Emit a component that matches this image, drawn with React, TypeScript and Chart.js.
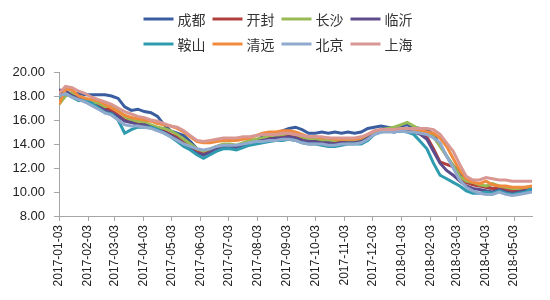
import React, { useEffect, useRef } from "react";
import { Chart, registerables } from "chart.js";

Chart.register(...registerables);

const dates = [
  "2017-01-03", "2017-01-10", "2017-01-17", "2017-01-24", "2017-01-31",
  "2017-02-07", "2017-02-14", "2017-02-21", "2017-02-28",
  "2017-03-07", "2017-03-14", "2017-03-21", "2017-03-28",
  "2017-04-04", "2017-04-11", "2017-04-18", "2017-04-25",
  "2017-05-02", "2017-05-09", "2017-05-16", "2017-05-23", "2017-05-30",
  "2017-06-06", "2017-06-13", "2017-06-20", "2017-06-27",
  "2017-07-04", "2017-07-11", "2017-07-18", "2017-07-25",
  "2017-08-01", "2017-08-08", "2017-08-15", "2017-08-22", "2017-08-29",
  "2017-09-05", "2017-09-12", "2017-09-19", "2017-09-26",
  "2017-10-03", "2017-10-10", "2017-10-17", "2017-10-24", "2017-10-31",
  "2017-11-07", "2017-11-14", "2017-11-21", "2017-11-28",
  "2017-12-05", "2017-12-12", "2017-12-19", "2017-12-26",
  "2018-01-02", "2018-01-09", "2018-01-16", "2018-01-23", "2018-01-30",
  "2018-02-06", "2018-02-13", "2018-02-20", "2018-02-27",
  "2018-03-06", "2018-03-13", "2018-03-20", "2018-03-27",
  "2018-04-03", "2018-04-10", "2018-04-17", "2018-04-24",
  "2018-05-01", "2018-05-08", "2018-05-15", "2018-05-22",
];

const seriesNames = ["成都", "开封", "长沙", "临沂", "鞍山", "清远", "北京", "上海"];

const chengdu = [
  18.3, 18.3, 18.2, 18.2, 18.1, 18.1, 18.1, 18.1, 18.0, 17.8, 17.1, 16.8, 16.9,
  16.7, 16.6, 16.3, 15.6, 15.1, 14.9, 14.7, 14.2, 13.6, 13.1, 13.4, 13.6, 13.7,
  13.8, 13.7, 13.8, 14.0, 14.3, 14.6, 14.7, 14.9, 15.1, 15.3, 15.4, 15.2, 14.9,
  14.9, 15.0, 14.9, 15.0, 14.9, 15.0, 14.9, 15.0, 15.3, 15.4, 15.5, 15.4, 15.3,
  15.5, 15.6, 15.4, 15.3, 15.2, 14.8, 13.9, 13.0, 12.2, 11.6, 11.0, 10.8, 10.6,
  10.4, 10.3, 10.4, 10.2, 10.1, 10.0, 10.1, 10.2,
];
const kaifeng = [
  18.0, 18.3, 18.1, 17.9, 17.7, 17.5, 17.3, 17.0, 16.8, 16.4, 16.0, 15.9, 15.8,
  15.7, 15.5, 15.3, 15.1, 14.8, 14.6, 14.2, 13.8, 13.4, 13.3, 13.5, 13.8, 13.9,
  13.9, 13.8, 14.0, 14.2, 14.3, 14.4, 14.6, 14.6, 14.7, 14.8, 14.7, 14.5, 14.4,
  14.3, 14.3, 14.2, 14.2, 14.3, 14.3, 14.2, 14.3, 14.6, 15.0, 15.1, 15.2, 15.1,
  15.2, 15.1, 15.0, 14.9, 14.6, 13.6, 12.5, 12.3, 12.1, 11.2, 10.8, 10.6, 10.5,
  10.4, 10.3, 10.3, 10.2, 10.1, 10.1, 10.2, 10.3,
];
const changsha = [
  17.3, 18.0, 18.3, 17.9, 17.8, 17.5, 17.4, 17.1, 17.2, 16.8, 16.3, 16.0, 15.9,
  15.8, 15.6, 15.4, 15.3, 15.1, 14.8, 14.4, 14.0, 13.6, 13.4, 13.6, 13.8, 14.0,
  14.0, 13.9, 14.1, 14.3, 14.4, 14.5, 14.7, 14.7, 14.8, 14.9, 14.8, 14.6, 14.4,
  14.4, 14.3, 14.3, 14.3, 14.4, 14.3, 14.3, 14.4, 14.7, 15.0, 15.2, 15.3, 15.4,
  15.6, 15.8, 15.5, 15.2, 14.9, 14.6, 13.8, 13.0, 12.2, 11.3, 10.9, 10.8, 10.6,
  10.5, 10.7, 10.5, 10.4, 10.3, 10.3, 10.4, 10.4,
];
const linyi = [
  18.5, 18.4, 18.0, 17.8, 17.5, 17.3, 17.1, 16.8, 16.6, 16.3, 15.9, 15.8, 15.6,
  15.6, 15.4, 15.2, 15.0, 14.7, 14.4, 14.0, 13.6, 13.2, 13.1, 13.3, 13.6, 13.7,
  13.8, 13.7, 13.8, 14.0, 14.2, 14.3, 14.4, 14.5, 14.5, 14.6, 14.5, 14.3, 14.2,
  14.2, 14.1, 14.1, 14.0, 14.1, 14.1, 14.1, 14.2, 14.5, 14.9, 15.1, 15.1, 15.0,
  15.1, 15.1, 15.0, 14.8, 14.4, 13.4, 12.4, 11.8, 11.4, 10.9, 10.5, 10.3, 10.2,
  10.1, 10.0, 10.2, 10.0, 9.9, 10.0, 10.1, 10.2,
];
const anshan = [
  17.8, 18.2, 17.9, 17.6, 17.7, 17.4, 17.0, 16.6, 16.5, 16.0, 14.9, 15.2, 15.4,
  15.4, 15.4, 15.2, 14.9, 14.6, 14.2, 13.8, 13.5, 13.1, 12.8, 13.1, 13.4, 13.6,
  13.6, 13.5, 13.7, 13.9, 14.0, 14.1, 14.2, 14.3, 14.3, 14.4, 14.3, 14.1, 14.0,
  14.0, 13.9, 13.8, 13.8, 13.9, 14.0, 14.0, 14.0, 14.3, 14.8, 15.0, 15.1, 15.0,
  15.1, 15.0, 14.8, 14.2, 13.6, 12.4, 11.4, 11.1, 10.8, 10.5, 10.1, 9.9, 9.9,
  10.0, 9.9, 10.1, 9.9, 9.8, 9.9, 10.0, 10.3,
];
const qingyuan = [
  17.3, 18.6, 18.5, 18.0, 17.8, 17.7, 17.6, 17.3, 17.0, 16.7, 16.4, 16.2, 16.1,
  16.0, 15.9, 15.7, 15.6, 15.5, 15.3, 15.0, 14.6, 14.2, 14.1, 14.1, 14.2, 14.3,
  14.3, 14.3, 14.4, 14.5, 14.7, 14.9, 15.0, 15.0, 15.1, 15.1, 15.0, 14.8, 14.6,
  14.6, 14.5, 14.5, 14.4, 14.4, 14.4, 14.4, 14.5, 14.8, 15.0, 15.2, 15.2, 15.1,
  15.2, 15.3, 15.2, 15.1, 15.0, 14.9, 14.5, 13.8, 12.8, 11.8, 11.1, 10.8, 10.7,
  10.9, 10.6, 10.5, 10.5, 10.4, 10.4, 10.4, 10.5,
];
const beijing = [
  18.0, 18.2, 17.9, 17.7, 17.5, 17.2, 16.9, 16.6, 16.4, 16.0, 15.6, 15.5, 15.5,
  15.4, 15.3, 15.1, 14.9, 14.6, 14.3, 14.0, 13.8, 13.6, 13.5, 13.6, 13.8, 13.9,
  13.9, 13.9, 14.0, 14.1, 14.2, 14.2, 14.3, 14.3, 14.4, 14.4, 14.3, 14.1, 14.0,
  14.0, 14.0, 13.9, 13.9, 14.0, 14.0, 14.0, 14.1, 14.4, 14.8, 15.0, 15.0, 15.0,
  15.1, 15.0, 15.0, 14.9, 14.8, 14.5, 14.1, 13.0, 12.0, 11.0, 10.4, 10.1, 9.9,
  9.8, 9.8, 10.0, 9.8, 9.7, 9.8, 9.9, 10.0,
];
const shanghai = [
  18.2, 18.8, 18.7, 18.4, 18.2, 17.9, 17.7, 17.5, 17.3, 17.0, 16.7, 16.5, 16.3,
  16.2, 16.0, 15.9, 15.7, 15.5, 15.4, 15.1, 14.7, 14.3, 14.2, 14.3, 14.4, 14.5,
  14.5, 14.5, 14.6, 14.6, 14.7, 14.8, 14.8, 14.8, 14.9, 14.9, 14.8, 14.7, 14.6,
  14.6, 14.6, 14.5, 14.5, 14.5, 14.5, 14.5, 14.6, 14.8, 15.1, 15.2, 15.2, 15.2,
  15.3, 15.3, 15.3, 15.3, 15.3, 15.2, 14.8, 14.1, 13.4, 12.3, 11.3, 11.0, 11.0,
  11.2, 11.1, 11.0, 11.0, 10.9, 10.9, 10.9, 10.9,
];

const seriesValues = [chengdu, kaifeng, changsha, linyi, anshan, qingyuan, beijing, shanghai];
const seriesColors = [
  "#3A5DA0", "#B0403D", "#98B954", "#5E4B8B",
  "#2E9BAF", "#F08A3C", "#8FAACC", "#D99794",
];

const tickDates = [
  "2017-01-03", "2017-02-03", "2017-03-03", "2017-04-03", "2017-05-03",
  "2017-06-03", "2017-07-03", "2017-08-03", "2017-09-03", "2017-10-03",
  "2017-11-03", "2017-12-03", "2018-01-03", "2018-02-03", "2018-03-03",
  "2018-04-03", "2018-05-03",
];

const yMin = 8;
const yMax = 20;
const yStep = 2;

function dayIndex(s: string): number {
  const [y, m, d] = s.split("-").map(Number);
  return (Date.UTC(y, m - 1, d) - Date.UTC(2017, 0, 3)) / 86400000;
}

const legendPlugin = {
  id: "twoRowLegend",
  afterDraw(chart: any) {
    const ctx = chart.ctx;
    const ds = chart.data.datasets;
    ctx.save();
    ctx.font = '14px "Microsoft YaHei", "Noto Sans CJK SC", sans-serif';
    ctx.textBaseline = "middle";
    ctx.textAlign = "left";
    const perRow = 4;
    const lineLen = 30;
    const textGap = 4;
    const itemGap = 7;
    const rowY = [19, 44];
    for (let r = 0; r < 2; r++) {
      const items = ds.slice(r * perRow, r * perRow + perRow);
      const widths = items.map((d: any) => lineLen + textGap + ctx.measureText(d.label).width);
      const total = widths.reduce((a: number, b: number) => a + b, 0) + itemGap * (items.length - 1);
      let x = (chart.width - total) / 2 + 3;
      items.forEach((d: any, i: number) => {
        ctx.strokeStyle = d.borderColor;
        ctx.lineWidth = 3;
        ctx.beginPath();
        ctx.moveTo(x, rowY[r]);
        ctx.lineTo(x + lineLen, rowY[r]);
        ctx.stroke();
        ctx.fillStyle = "#333";
        ctx.fillText(d.label, x + lineLen + textGap, rowY[r] + 1);
        x += widths[i] + itemGap;
      });
    }
    ctx.restore();
  },
};

export default function App() {
  const canvasRef = useRef<HTMLCanvasElement | null>(null);

  useEffect(() => {
    if (!canvasRef.current) return;
    const xs = dates.map(dayIndex);
    const n = seriesNames.length;
    const chart = new Chart(canvasRef.current, {
      type: "line",
      data: {
        datasets: seriesNames.map((name, i) => ({
          label: name,
          data: seriesValues[i].map((v, k) => ({ x: xs[k], y: v })),
          borderColor: seriesColors[i],
          backgroundColor: seriesColors[i],
          borderWidth: 3,
          pointRadius: 0,
          tension: 0,
          fill: false,
          order: n - i,
        })),
      },
      options: {
        animation: false,
        responsive: false,
        layout: { padding: { top: 72, right: 18, left: 0, bottom: 0 } },
        plugins: {
          legend: { display: false },
          tooltip: { enabled: false },
        },
        scales: {
          x: {
            type: "linear",
            min: 0,
            max: xs[xs.length - 1],
            afterBuildTicks: (scale: any) => {
              scale.ticks = tickDates.map((d) => ({ value: dayIndex(d) }));
            },
            afterFit: (scale: any) => {
              scale.height = 84;
            },
            grid: {
              display: true,
              drawOnChartArea: false,
              drawTicks: true,
              tickLength: 5,
              color: "#a6a6a6",
            },
            border: { display: true, color: "#a6a6a6", width: 1 },
            ticks: {
              autoSkip: false,
              minRotation: 90,
              maxRotation: 90,
              padding: 4,
              color: "#222",
              font: { family: "Arial, 'Liberation Sans', sans-serif", size: 12 },
              callback: (_v: any, idx: number) => tickDates[idx],
            },
          },
          y: {
            min: yMin,
            max: yMax,
            afterFit: (scale: any) => {
              scale.width = 59;
            },
            grid: {
              display: true,
              drawOnChartArea: false,
              drawTicks: true,
              tickLength: 5,
              color: "#a6a6a6",
            },
            border: { display: true, color: "#a6a6a6", width: 1 },
            ticks: {
              stepSize: yStep,
              padding: 9,
              color: "#222",
              font: { family: "Arial, 'Liberation Sans', sans-serif", size: 13 },
              callback: (v: any) => Number(v).toFixed(2),
            },
          },
        },
      },
      plugins: [legendPlugin],
    });
    return () => chart.destroy();
  }, []);

  return (
    <div style={{ position: "fixed", left: 0, top: 0, width: 550, height: 300, background: "#fff" }}>
      <canvas ref={canvasRef} width={550} height={300} />
    </div>
  );
}
